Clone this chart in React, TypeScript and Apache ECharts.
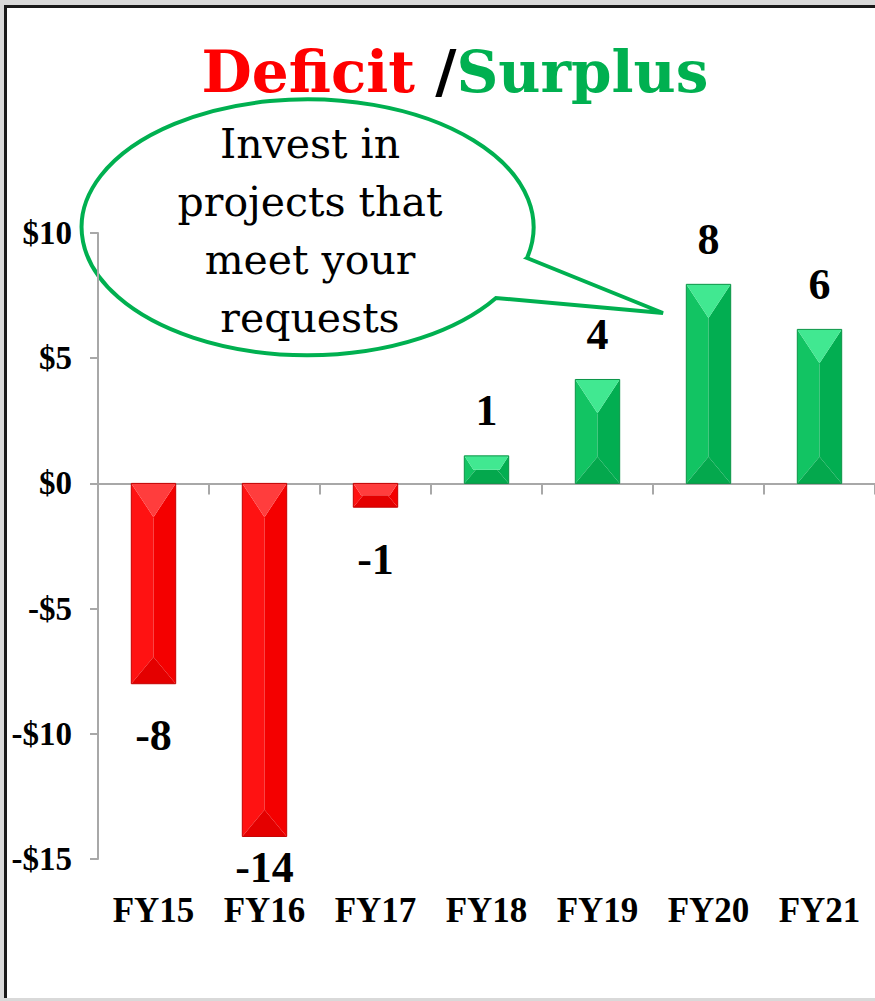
import React, { useEffect, useRef } from "react";
import * as echarts from "echarts";

const categories = ["FY15", "FY16", "FY17", "FY18", "FY19", "FY20", "FY21"];
const values = [-8, -14.1, -0.95, 1.1, 4.15, 7.95, 6.15];
const valueLabels = ["-8", "-14", "-1", "1", "4", "8", "6"];
const yMin = -15;
const yMax = 10;
const yStep = 5;
const bubbleLines = ["Invest in", "projects that", "meet your", "requests"];

const bubblePath =
  "M 527 258 L 663 313 L 496 298 A 226 128 0 1 1 527 258 Z";
echarts.graphic.registerShape("bubble", (echarts.graphic as any).extendPath(bubblePath, {}));

const GREEN = { top: "#41e891", left: "#12c463", right: "#02ae51", bottom: "#04a84d", stroke: "#0a9446" };
const RED = { top: "#ff3d3d", left: "#ff1212", right: "#f40000", bottom: "#e40000", stroke: "#c40000" };

function renderBar(params: any, api: any) {
  const i = api.value(0);
  const v = api.value(1);
  const p0 = api.coord([i, 0]);
  const p1 = api.coord([i, v]);
  const pMin = api.coord([i, yMin]);
  const bw = api.size([1, 0])[0] * 0.4;
  const cx = p0[0];
  const left = cx - bw / 2;
  const right = cx + bw / 2;
  const top = Math.min(p0[1], p1[1]);
  const bottom = Math.max(p0[1], p1[1]);
  const h = bottom - top;
  const dMax = bw * 0.76;
  const d = Math.min(dMax, h / 2);
  const s = d / dMax;
  const inset = (bw / 2) * s;
  const dB = Math.min(bw * 0.6, h / 2);
  const insetB = (bw / 2) * Math.min(1, dB / (bw * 0.6));
  const itl = [left + inset, top + d];
  const itr = [right - inset, top + d];
  const ibl = [left + insetB, bottom - dB];
  const ibr = [right - insetB, bottom - dB];
  const c = v >= 0 ? GREEN : RED;
  const ly = v >= 0 ? top - 45 : Math.min(bottom + 52, pMin[1] + 8);
  return {
    type: "group",
    children: [
      { type: "polygon", shape: { points: [[left, top], [left, bottom], ibl, itl] }, style: { fill: c.left } },
      { type: "polygon", shape: { points: [[right, top], [right, bottom], ibr, itr] }, style: { fill: c.right } },
      { type: "polygon", shape: { points: [[left, bottom], [right, bottom], ibr, ibl] }, style: { fill: c.bottom } },
      { type: "polygon", shape: { points: [[left, top], [right, top], itr, itl] }, style: { fill: c.top } },
      { type: "rect", shape: { x: left, y: top, width: bw, height: h }, style: { fill: "none", stroke: c.stroke, lineWidth: 1 } },
      {
        type: "text",
        x: cx,
        y: ly,
        style: {
          text: valueLabels[i],
          align: "center",
          verticalAlign: "middle",
          textAlign: "center",
          textVerticalAlign: "middle",
          font: 'bold 44px "Liberation Serif"',
          fill: "#000",
        },
      },
    ],
  };
}

const axisGray = "#a8a8a8";

const option: any = {
  animation: false,
  backgroundColor: "transparent",
  grid: { left: 98, top: 233, width: 788, height: 626, containLabel: false },
  xAxis: [
    {
      type: "category",
      data: categories,
      position: "bottom",
      axisLine: { show: true, onZero: true, lineStyle: { color: axisGray, width: 2 } },
      axisTick: { show: true, length: 11, lineStyle: { color: axisGray, width: 2 } },
      axisLabel: { show: false },
      splitLine: { show: false },
    },
    {
      type: "category",
      data: categories,
      position: "bottom",
      axisLine: { show: false, onZero: false },
      axisTick: { show: false },
      axisLabel: {
        show: true,
        margin: 34,
        color: "#000",
        fontFamily: "Liberation Serif",
        fontWeight: "bold",
        fontSize: 35,
      },
      splitLine: { show: false },
    },
  ],
  yAxis: {
    type: "value",
    min: yMin,
    max: yMax,
    interval: yStep,
    axisLine: { show: true, lineStyle: { color: axisGray, width: 2 } },
    axisTick: { show: true, length: 8, lineStyle: { color: axisGray, width: 2 } },
    splitLine: { show: false },
    axisLabel: {
      margin: 26,
      color: "#000",
      fontFamily: "Liberation Serif",
      fontWeight: "bold",
      fontSize: 33,
      formatter: (v: number) => (v < 0 ? `-$${-v}` : `$${v}`),
    },
  },
  series: [
    {
      type: "custom",
      xAxisIndex: 0,
      yAxisIndex: 0,
      renderItem: renderBar,
      encode: { x: 0, y: 1 },
      data: values.map((v, i) => [i, v]),
      z: 3,
    },
  ],
  graphic: [
    {
      type: "text",
      x: 455,
      y: 72,
      style: {
        text: "{r|Deficit}{k| /}{g|Surplus}",
        align: "center",
        verticalAlign: "middle",
        textAlign: "center",
        textVerticalAlign: "middle",
        rich: {
          r: { fill: "#ff0000", fontSize: 58, fontFamily: "DejaVu Serif", fontWeight: "bold" },
          k: { fill: "#000000", fontSize: 58, fontFamily: "DejaVu Serif", fontWeight: "bold" },
          g: { fill: "#00b050", fontSize: 58, fontFamily: "DejaVu Serif", fontWeight: "bold" },
        },
      },
    },
    {
      type: "bubble",
      x: 0,
      y: 0,
      z: -1,
      style: { fill: "none", stroke: "#00b050", lineWidth: 4 },
    },
    {
      type: "text",
      x: 310,
      y: 231,
      style: {
        text: bubbleLines.join("\n"),
        align: "center",
        verticalAlign: "middle",
        textAlign: "center",
        textVerticalAlign: "middle",
        font: '41px "DejaVu Serif"',
        lineHeight: 58,
        fill: "#000",
      },
    },
  ],
};

export default function App() {
  const ref = useRef<HTMLDivElement>(null);
  useEffect(() => {
    const chart = echarts.init(ref.current!, null, { renderer: "svg" });
    chart.setOption(option);
    return () => chart.dispose();
  }, []);
  return (
    <div
      style={{
        position: "fixed",
        left: 0,
        top: 0,
        width: 875,
        height: 1001,
        background: "#d9d9d9",
        overflow: "hidden",
      }}
    >
      <div
        style={{
          position: "absolute",
          left: 4,
          top: 5,
          right: 0,
          bottom: 3,
          background: "#ffffff",
          borderLeft: "3px solid #1a1a1a",
          borderTop: "3px solid #1a1a1a",
        }}
      />
      <div ref={ref} style={{ position: "absolute", left: 0, top: 0, width: 875, height: 1001 }} />
    </div>
  );
}
